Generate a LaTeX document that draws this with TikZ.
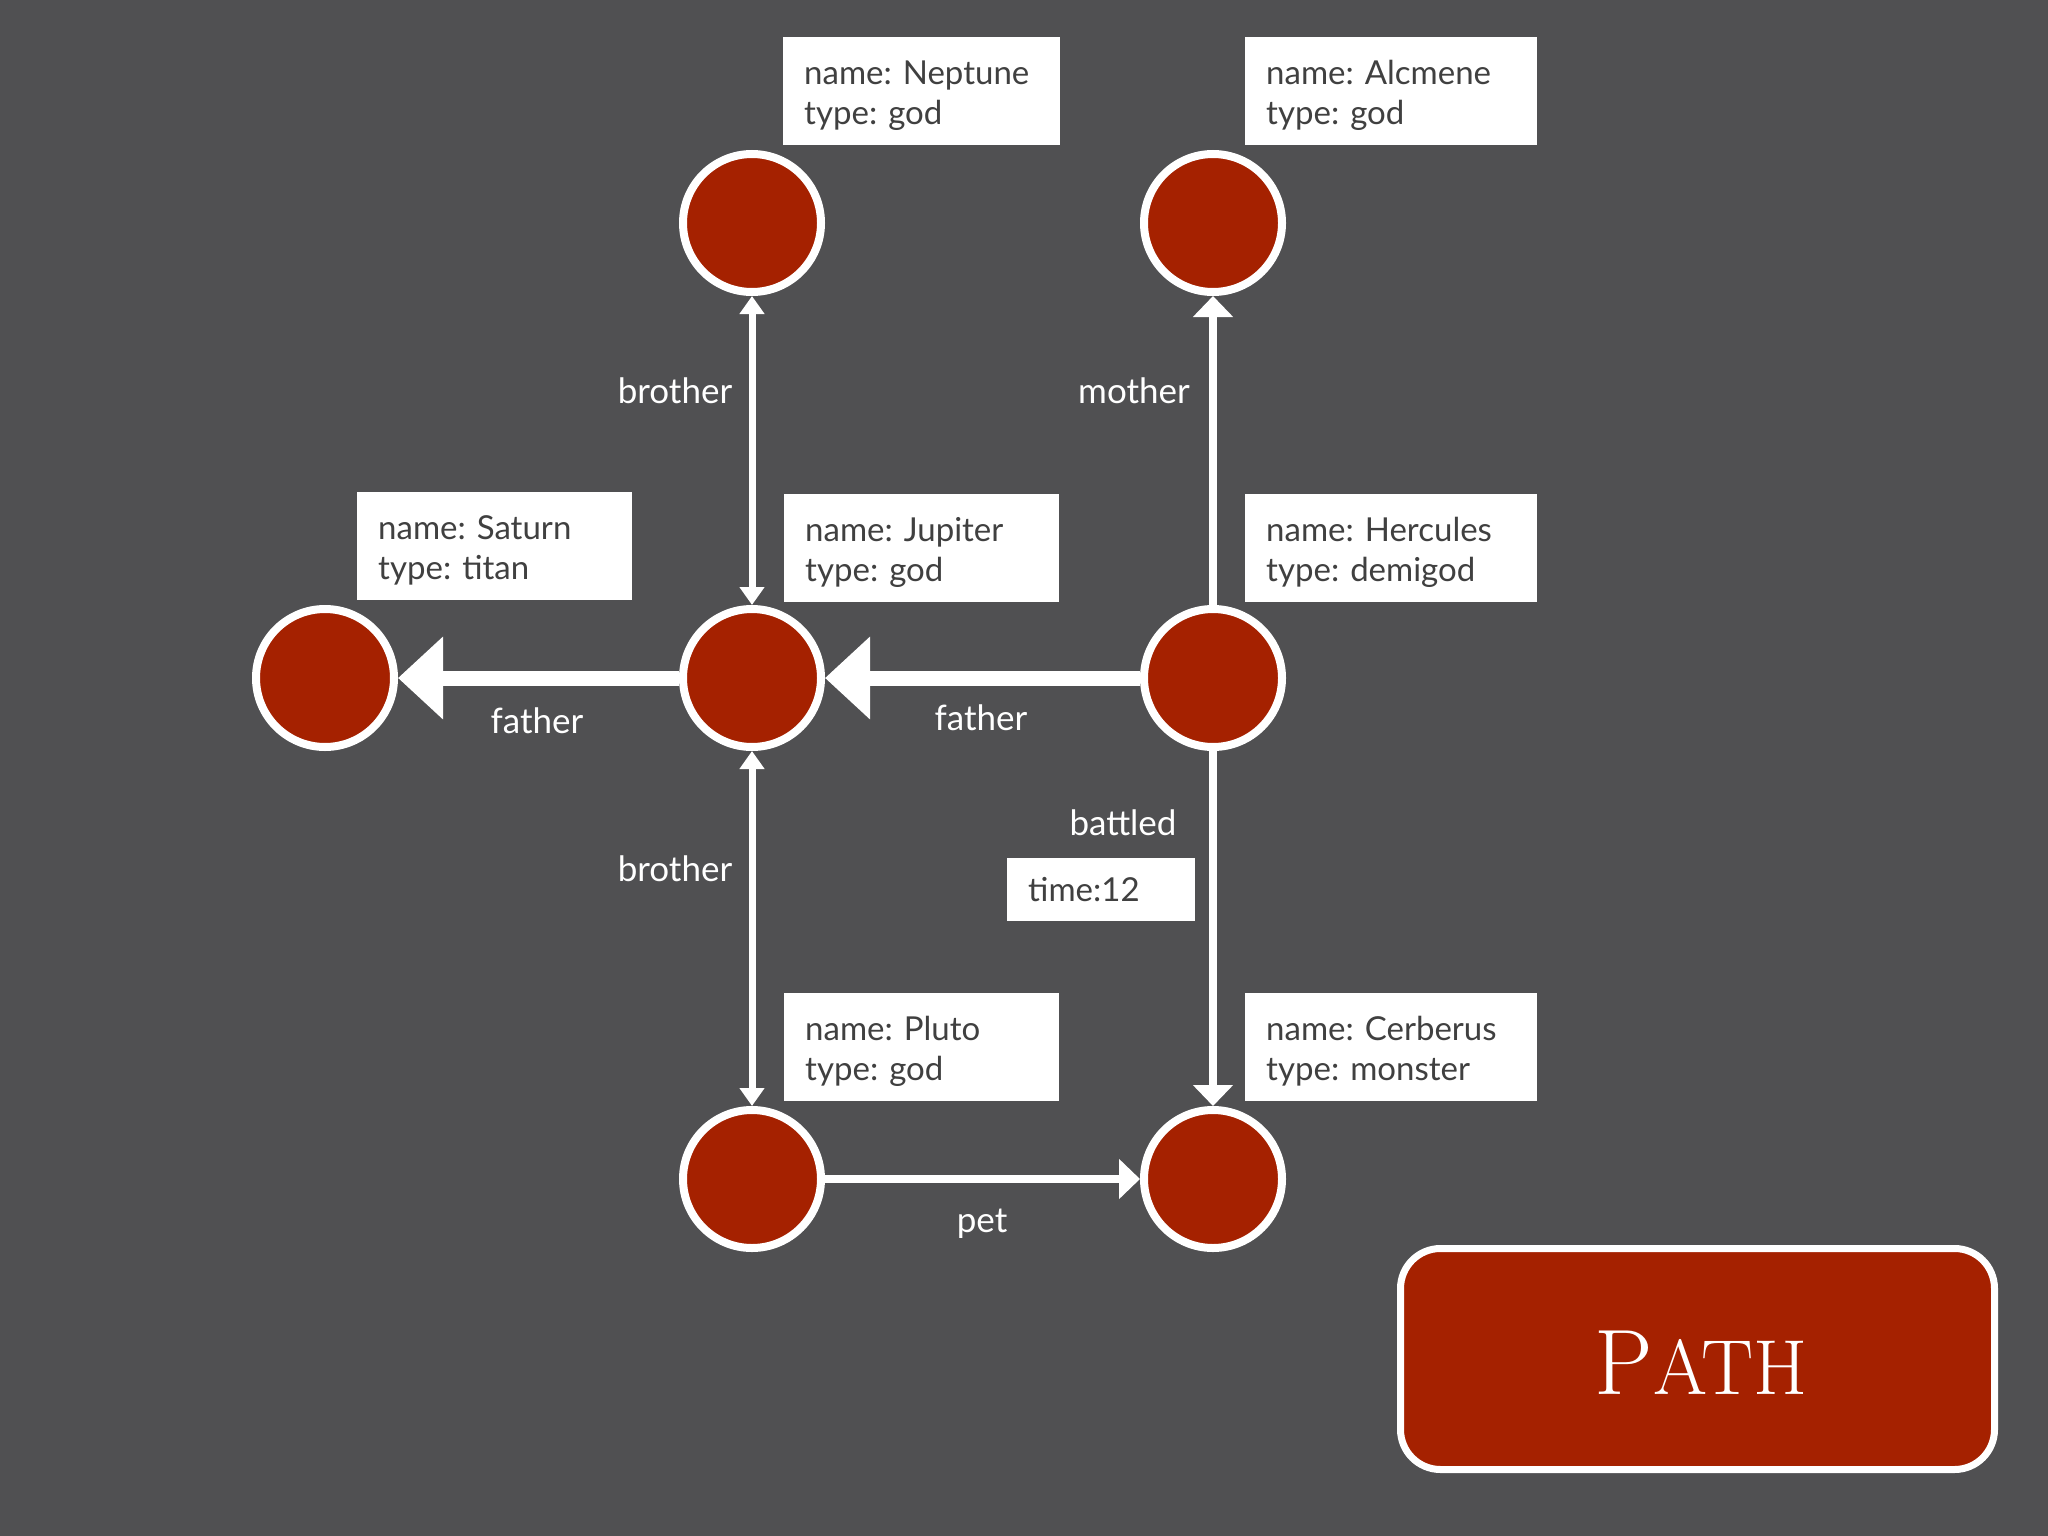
\documentclass[tikz,border=0pt]{standalone}
\usepackage{fontspec}
\usepackage{graphicx}
\setsansfont{Lato}
\usetikzlibrary{arrows.meta}
\definecolor{bg}{HTML}{505052}
\definecolor{nodered}{HTML}{A52100}
\definecolor{boxtext}{HTML}{404040}
\newcommand\myboxfont{\sffamily\fontsize{33}{40}\selectfont\frenchspacing\hyphenpenalty=10000\relax\exhyphenpenalty=10000\relax}
\newcommand\mylabelfont{\sffamily\fontsize{35}{42}\selectfont}
\newcommand\mystrut{\rule{0pt}{32pt}}
\begin{document}
\begin{tikzpicture}[x=1pt,y=-1pt,
  ent/.style={circle, fill=nodered, draw=white, line width=8pt, minimum size=138pt, inner sep=0pt},
  prop/.style={fill=white, text=boxtext, font=\myboxfont, align=left,
    inner xsep=21pt, inner ysep=0pt, anchor=north west, minimum height=108pt},
  rel/.style={text=white, font=\mylabelfont, inner sep=0pt},
  thinedge/.style={draw=white, line width=7pt, {Triangle[width=24pt,length=18pt]}-{Triangle[width=24pt,length=18pt]}},
  mededge/.style={draw=white, line width=8pt, -{Triangle[width=39pt,length=21pt]}},
  thickedge/.style={draw=white, line width=15pt, -{Triangle[width=80pt,length=45pt]}},
  pathbox/.style={draw=white, fill=nodered, line width=7pt, rounded corners=40pt, minimum width=594pt, minimum height=221pt},
  pathtext/.style={text=white, inner sep=0pt}
]
\fill[bg] (0,0) rectangle (2048,1536);
\useasboundingbox (0,0) rectangle (2048,1536);

% entities
\node[ent] (nep) at (752,223) {};
\node[ent] (alc) at (1213,223) {};
\node[ent] (sat) at (325,678) {};
\node[ent] (jup) at (752,678) {};
\node[ent] (her) at (1213,678) {};
\node[ent] (plu) at (752,1179) {};
\node[ent] (cer) at (1213,1179) {};

% property boxes
\node[prop, text width=235pt] (pnep) at (783,37) {\mystrut name: Neptune\\type: god};
\node[prop, text width=250pt] (palc) at (1245,37) {\mystrut name: Alcmene\\type: god};
\node[prop, text width=233pt] (psat) at (357,492) {\mystrut name: Saturn\\type: titan};
\node[prop, text width=233pt] (pjup) at (784,494) {\mystrut name: Jupiter\\type: god};
\node[prop, text width=250pt] (pher) at (1245,494) {\mystrut name: Hercules\\type: demigod};
\node[prop, text width=233pt] (pplu) at (784,993) {\mystrut name: Pluto\\type: god};
\node[prop, text width=250pt] (pcer) at (1245,993) {\mystrut name: Cerberus\\type: monster};
\node[prop, text width=146pt, inner xsep=21pt, minimum height=63pt] (ptime) at (1007,858) {time:12};

% edges
\draw[thinedge] (jup) -- (nep);
\draw[thinedge] (jup) -- (plu);
\draw[mededge] (her) -- (alc);
\draw[mededge] (her) -- (cer);
\draw[mededge] (plu) -- (cer);
\draw[thickedge] (her) -- (jup);
\draw[thickedge] (jup) -- (sat);

% edge labels
\node[rel] (lbro1) at (675,391) {brother};
\node[rel] (lmot) at (1134,391) {mother};
\node[rel] (lfat1) at (537,721) {father};
\node[rel] (lfat2) at (981,718) {father};
\node[rel] (lbat) at (1123,823) {battled};
\node[rel] (lbro2) at (675,869) {brother};
\node[rel] (lpet) at (982,1224) {pet};

% path box
\node[pathbox] (pbox) at (1697.5,1359) {};
\node[pathtext] (ptxt) at (1701,1363) {\fontsize{93}{93}\selectfont P\fontsize{78}{78}\selectfont ATH};
\end{tikzpicture}
\end{document}
